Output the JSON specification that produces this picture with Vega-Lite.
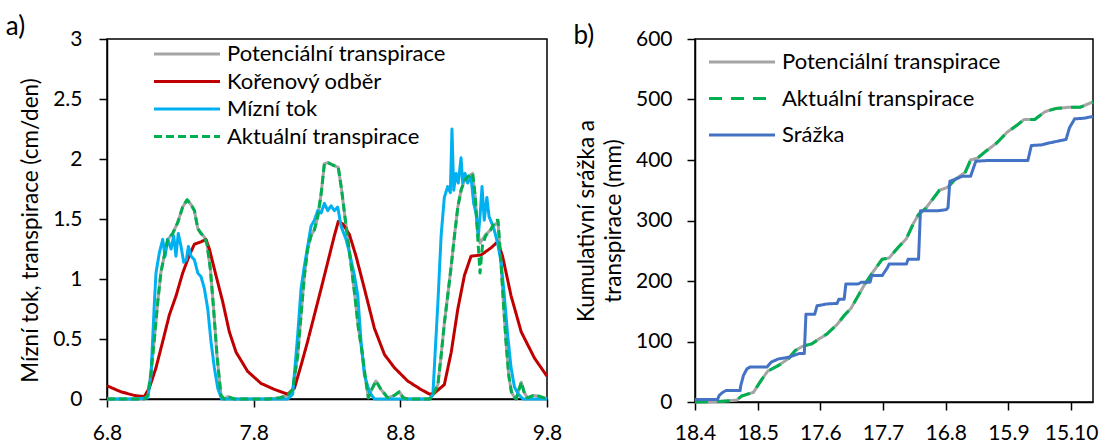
{
  "$schema": "https://vega.github.io/schema/vega-lite/v6.json",
  "padding": {"left": 4, "top": 13, "right": 0, "bottom": 0},
  "background": "white",
  "spacing": 9,
  "config": {
    "font": "Lato",
    "view": {"stroke": "black", "strokeWidth": 1.5},
    "axis": {"domainColor": "black", "tickColor": "black", "labelColor": "black", "titleColor": "black", "labelFont": "Lato", "titleFont": "Lato", "grid": false, "tickSize": 8, "domainWidth": 1.5, "tickWidth": 1.5, "labelFontSize": 21, "titleFontSize": 22.5, "titleFontWeight": "normal", "labelPadding": 15, "titlePadding": 10, "labelFlush": false},
    "legend": {"labelFont": "Lato", "labelFontSize": 22, "labelColor": "black", "labelLimit": 0},
    "title": {"font": "Lato", "fontSize": 26, "fontWeight": "normal", "color": "black", "anchor": "start", "frame": "bounds"}
  },
  "resolve": {"scale": {"color": "independent", "strokeDash": "independent"}, "legend": {"color": "independent", "strokeDash": "independent"}},
  "hconcat": [
    {
      "width": 440,
      "height": 360,
      "title": {"text": "a)", "offset": -12, "dx": -14},
      "data": {"values": [
        {"s":"Potenciální transpirace","d":6.8,"v":0},{"s":"Potenciální transpirace","d":7.0,"v":0},{"s":"Potenciální transpirace","d":7.054,"v":0},{"s":"Potenciální transpirace","d":7.078,"v":0.03},{"s":"Potenciální transpirace","d":7.1,"v":0.22},{"s":"Potenciální transpirace","d":7.123,"v":0.5},{"s":"Potenciální transpirace","d":7.146,"v":0.81},{"s":"Potenciální transpirace","d":7.168,"v":1.06},{"s":"Potenciální transpirace","d":7.19,"v":1.19},{"s":"Potenciální transpirace","d":7.214,"v":1.33},{"s":"Potenciální transpirace","d":7.248,"v":1.38},{"s":"Potenciální transpirace","d":7.282,"v":1.47},{"s":"Potenciální transpirace","d":7.316,"v":1.6},{"s":"Potenciální transpirace","d":7.346,"v":1.66},{"s":"Potenciální transpirace","d":7.373,"v":1.62},{"s":"Potenciální transpirace","d":7.396,"v":1.57},{"s":"Potenciální transpirace","d":7.419,"v":1.42},{"s":"Potenciální transpirace","d":7.441,"v":1.38},{"s":"Potenciální transpirace","d":7.464,"v":1.35},{"s":"Potenciální transpirace","d":7.482,"v":1.29},{"s":"Potenciální transpirace","d":7.505,"v":1.08},{"s":"Potenciální transpirace","d":7.527,"v":0.75},{"s":"Potenciální transpirace","d":7.55,"v":0.36},{"s":"Potenciální transpirace","d":7.577,"v":0.03},{"s":"Potenciální transpirace","d":7.6,"v":0},{"s":"Potenciální transpirace","d":7.623,"v":0.02},{"s":"Potenciální transpirace","d":7.668,"v":0},{"s":"Potenciální transpirace","d":7.9,"v":0},{"s":"Potenciální transpirace","d":7.98,"v":0.01},{"s":"Potenciální transpirace","d":8.032,"v":0.03},{"s":"Potenciální transpirace","d":8.066,"v":0.08},{"s":"Potenciální transpirace","d":8.1,"v":0.36},{"s":"Potenciální transpirace","d":8.123,"v":0.7},{"s":"Potenciální transpirace","d":8.146,"v":1.03},{"s":"Potenciální transpirace","d":8.168,"v":1.25},{"s":"Potenciální transpirace","d":8.191,"v":1.36},{"s":"Potenciální transpirace","d":8.214,"v":1.41},{"s":"Potenciální transpirace","d":8.237,"v":1.52},{"s":"Potenciální transpirace","d":8.26,"v":1.71},{"s":"Potenciální transpirace","d":8.282,"v":1.96},{"s":"Potenciální transpirace","d":8.305,"v":1.97},{"s":"Potenciální transpirace","d":8.339,"v":1.95},{"s":"Potenciální transpirace","d":8.377,"v":1.93},{"s":"Potenciální transpirace","d":8.4,"v":1.74},{"s":"Potenciální transpirace","d":8.422,"v":1.52},{"s":"Potenciální transpirace","d":8.445,"v":1.3},{"s":"Potenciální transpirace","d":8.468,"v":1.08},{"s":"Potenciální transpirace","d":8.49,"v":0.86},{"s":"Potenciální transpirace","d":8.514,"v":0.59},{"s":"Potenciální transpirace","d":8.536,"v":0.42},{"s":"Potenciální transpirace","d":8.559,"v":0.2},{"s":"Potenciální transpirace","d":8.582,"v":0.01},{"s":"Potenciální transpirace","d":8.605,"v":0.08},{"s":"Potenciální transpirace","d":8.634,"v":0.15},{"s":"Potenciální transpirace","d":8.668,"v":0.08},{"s":"Potenciální transpirace","d":8.714,"v":0.01},{"s":"Potenciální transpirace","d":8.76,"v":0.03},{"s":"Potenciální transpirace","d":8.793,"v":0.06},{"s":"Potenciální transpirace","d":8.82,"v":0.01},{"s":"Potenciální transpirace","d":8.85,"v":0},{"s":"Potenciální transpirace","d":9.0,"v":0},{"s":"Potenciální transpirace","d":9.022,"v":0.03},{"s":"Potenciální transpirace","d":9.056,"v":0.12},{"s":"Potenciální transpirace","d":9.078,"v":0.36},{"s":"Potenciální transpirace","d":9.1,"v":0.63},{"s":"Potenciální transpirace","d":9.123,"v":0.86},{"s":"Potenciální transpirace","d":9.147,"v":1.11},{"s":"Potenciální transpirace","d":9.169,"v":1.36},{"s":"Potenciální transpirace","d":9.192,"v":1.6},{"s":"Potenciální transpirace","d":9.214,"v":1.74},{"s":"Potenciální transpirace","d":9.237,"v":1.82},{"s":"Potenciální transpirace","d":9.259,"v":1.85},{"s":"Potenciální transpirace","d":9.293,"v":1.88},{"s":"Potenciální transpirace","d":9.311,"v":1.68},{"s":"Potenciální transpirace","d":9.327,"v":1.4},{"s":"Potenciální transpirace","d":9.343,"v":1.3},{"s":"Potenciální transpirace","d":9.36,"v":1.33},{"s":"Potenciální transpirace","d":9.382,"v":1.37},{"s":"Potenciální transpirace","d":9.416,"v":1.41},{"s":"Potenciální transpirace","d":9.45,"v":1.46},{"s":"Potenciální transpirace","d":9.466,"v":1.47},{"s":"Potenciální transpirace","d":9.485,"v":1.16},{"s":"Potenciální transpirace","d":9.503,"v":0.8},{"s":"Potenciální transpirace","d":9.521,"v":0.47},{"s":"Potenciální transpirace","d":9.539,"v":0.2},{"s":"Potenciální transpirace","d":9.557,"v":0.06},{"s":"Potenciální transpirace","d":9.575,"v":0.02},{"s":"Potenciální transpirace","d":9.59,"v":0},{"s":"Potenciální transpirace","d":9.609,"v":0.08},{"s":"Potenciální transpirace","d":9.625,"v":0.14},{"s":"Potenciální transpirace","d":9.643,"v":0.06},{"s":"Potenciální transpirace","d":9.666,"v":0.01},{"s":"Potenciální transpirace","d":9.71,"v":0.03},{"s":"Potenciální transpirace","d":9.755,"v":0.02},{"s":"Potenciální transpirace","d":9.8,"v":0},

        {"s":"Kořenový odběr","d":6.8,"v":0.11},{"s":"Kořenový odběr","d":6.895,"v":0.06},{"s":"Kořenový odběr","d":6.986,"v":0.03},{"s":"Kořenový odběr","d":7.054,"v":0.02},{"s":"Kořenový odběr","d":7.088,"v":0.09},{"s":"Kořenový odběr","d":7.134,"v":0.26},{"s":"Kořenový odběr","d":7.18,"v":0.48},{"s":"Kořenový odběr","d":7.225,"v":0.7},{"s":"Kořenový odběr","d":7.271,"v":0.86},{"s":"Kořenový odběr","d":7.316,"v":1.05},{"s":"Kořenový odběr","d":7.362,"v":1.2},{"s":"Kořenový odběr","d":7.396,"v":1.29},{"s":"Kořenový odběr","d":7.441,"v":1.31},{"s":"Kořenový odběr","d":7.475,"v":1.33},{"s":"Kořenový odběr","d":7.498,"v":1.25},{"s":"Kořenový odběr","d":7.543,"v":1.03},{"s":"Kořenový odběr","d":7.589,"v":0.81},{"s":"Kořenový odběr","d":7.634,"v":0.56},{"s":"Kořenový odběr","d":7.68,"v":0.39},{"s":"Kořenový odběr","d":7.759,"v":0.23},{"s":"Kořenový odběr","d":7.85,"v":0.13},{"s":"Kořenový odběr","d":7.941,"v":0.08},{"s":"Kořenový odběr","d":8.032,"v":0.04},{"s":"Kořenový odběr","d":8.078,"v":0.09},{"s":"Kořenový odběr","d":8.123,"v":0.28},{"s":"Kořenový odběr","d":8.168,"v":0.48},{"s":"Kořenový odběr","d":8.214,"v":0.7},{"s":"Kořenový odběr","d":8.26,"v":0.92},{"s":"Kořenový odběr","d":8.305,"v":1.14},{"s":"Kořenový odběr","d":8.35,"v":1.36},{"s":"Kořenový odběr","d":8.377,"v":1.48},{"s":"Kořenový odběr","d":8.407,"v":1.46},{"s":"Kořenový odběr","d":8.453,"v":1.37},{"s":"Kořenový odběr","d":8.498,"v":1.19},{"s":"Kořenový odběr","d":8.555,"v":0.92},{"s":"Kořenový odběr","d":8.623,"v":0.59},{"s":"Kořenový odběr","d":8.692,"v":0.37},{"s":"Kořenový odběr","d":8.76,"v":0.26},{"s":"Kořenový odběr","d":8.85,"v":0.15},{"s":"Kořenový odběr","d":8.94,"v":0.08},{"s":"Kořenový odběr","d":9.0,"v":0.04},{"s":"Kořenový odběr","d":9.033,"v":0.05},{"s":"Kořenový odběr","d":9.1,"v":0.12},{"s":"Kořenový odběr","d":9.147,"v":0.39},{"s":"Kořenový odběr","d":9.192,"v":0.75},{"s":"Kořenový odběr","d":9.237,"v":1.03},{"s":"Kořenový odběr","d":9.282,"v":1.19},{"s":"Kořenový odběr","d":9.35,"v":1.2},{"s":"Kořenový odběr","d":9.419,"v":1.26},{"s":"Kořenový odběr","d":9.463,"v":1.31},{"s":"Kořenový odběr","d":9.497,"v":1.19},{"s":"Kořenový odběr","d":9.555,"v":0.86},{"s":"Kořenový odběr","d":9.624,"v":0.56},{"s":"Kořenový odběr","d":9.715,"v":0.34},{"s":"Kořenový odběr","d":9.8,"v":0.19},

        {"s":"Mízní tok","d":6.8,"v":0},{"s":"Mízní tok","d":7.0,"v":0},{"s":"Mízní tok","d":7.078,"v":0.01},{"s":"Mízní tok","d":7.1,"v":0.2},{"s":"Mízní tok","d":7.123,"v":0.8},{"s":"Mízní tok","d":7.134,"v":1.05},{"s":"Mízní tok","d":7.157,"v":1.22},{"s":"Mízní tok","d":7.18,"v":1.33},{"s":"Mízní tok","d":7.196,"v":1.19},{"s":"Mízní tok","d":7.214,"v":1.33},{"s":"Mízní tok","d":7.237,"v":1.25},{"s":"Mízní tok","d":7.255,"v":1.36},{"s":"Mízní tok","d":7.27,"v":1.19},{"s":"Mízní tok","d":7.286,"v":1.38},{"s":"Mízní tok","d":7.305,"v":1.27},{"s":"Mízní tok","d":7.323,"v":1.14},{"s":"Mízní tok","d":7.341,"v":1.16},{"s":"Mízní tok","d":7.355,"v":1.27},{"s":"Mízní tok","d":7.373,"v":1.19},{"s":"Mízní tok","d":7.396,"v":1.16},{"s":"Mízní tok","d":7.419,"v":1.05},{"s":"Mízní tok","d":7.441,"v":1.02},{"s":"Mízní tok","d":7.464,"v":0.92},{"s":"Mízní tok","d":7.487,"v":0.75},{"s":"Mízní tok","d":7.509,"v":0.48},{"s":"Mízní tok","d":7.532,"v":0.26},{"s":"Mízní tok","d":7.555,"v":0.09},{"s":"Mízní tok","d":7.582,"v":0},{"s":"Mízní tok","d":8.032,"v":0},{"s":"Mízní tok","d":8.066,"v":0.04},{"s":"Mízní tok","d":8.1,"v":0.53},{"s":"Mízní tok","d":8.123,"v":0.92},{"s":"Mízní tok","d":8.146,"v":1.11},{"s":"Mízní tok","d":8.168,"v":1.27},{"s":"Mízní tok","d":8.191,"v":1.44},{"s":"Mízní tok","d":8.214,"v":1.49},{"s":"Mízní tok","d":8.237,"v":1.57},{"s":"Mízní tok","d":8.26,"v":1.55},{"s":"Mízní tok","d":8.282,"v":1.63},{"s":"Mízní tok","d":8.305,"v":1.57},{"s":"Mízní tok","d":8.328,"v":1.61},{"s":"Mízní tok","d":8.35,"v":1.57},{"s":"Mízní tok","d":8.373,"v":1.6},{"s":"Mízní tok","d":8.396,"v":1.44},{"s":"Mízní tok","d":8.43,"v":1.33},{"s":"Mízní tok","d":8.453,"v":1.22},{"s":"Mízní tok","d":8.487,"v":1.03},{"s":"Mízní tok","d":8.51,"v":0.86},{"s":"Mízní tok","d":8.532,"v":0.48},{"s":"Mízní tok","d":8.555,"v":0.2},{"s":"Mízní tok","d":8.589,"v":0.06},{"s":"Mízní tok","d":8.623,"v":0},{"s":"Mízní tok","d":9.0,"v":0},{"s":"Mízní tok","d":9.022,"v":0.04},{"s":"Mízní tok","d":9.056,"v":0.8},{"s":"Mízní tok","d":9.078,"v":1.36},{"s":"Mízní tok","d":9.1,"v":1.68},{"s":"Mízní tok","d":9.123,"v":1.77},{"s":"Mízní tok","d":9.141,"v":1.72},{"s":"Mízní tok","d":9.152,"v":2.25},{"s":"Mízní tok","d":9.164,"v":1.74},{"s":"Mízní tok","d":9.18,"v":1.88},{"s":"Mízní tok","d":9.195,"v":1.8},{"s":"Mízní tok","d":9.214,"v":2.01},{"s":"Mízní tok","d":9.225,"v":1.8},{"s":"Mízní tok","d":9.241,"v":1.88},{"s":"Mízní tok","d":9.259,"v":1.8},{"s":"Mízní tok","d":9.282,"v":1.85},{"s":"Mízní tok","d":9.3,"v":1.63},{"s":"Mízní tok","d":9.316,"v":1.55},{"s":"Mízní tok","d":9.332,"v":1.36},{"s":"Mízní tok","d":9.345,"v":1.55},{"s":"Mízní tok","d":9.357,"v":1.77},{"s":"Mízní tok","d":9.372,"v":1.49},{"s":"Mízní tok","d":9.39,"v":1.68},{"s":"Mízní tok","d":9.405,"v":1.52},{"s":"Mízní tok","d":9.422,"v":1.47},{"s":"Mízní tok","d":9.44,"v":1.41},{"s":"Mízní tok","d":9.463,"v":1.3},{"s":"Mízní tok","d":9.487,"v":1.14},{"s":"Mízní tok","d":9.509,"v":0.86},{"s":"Mízní tok","d":9.532,"v":0.53},{"s":"Mízní tok","d":9.555,"v":0.26},{"s":"Mízní tok","d":9.578,"v":0.1},{"s":"Mízní tok","d":9.605,"v":0.04},{"s":"Mízní tok","d":9.635,"v":0},{"s":"Mízní tok","d":9.8,"v":0},

        {"s":"Aktuální transpirace","d":6.8,"v":0},{"s":"Aktuální transpirace","d":7.0,"v":0},{"s":"Aktuální transpirace","d":7.054,"v":0},{"s":"Aktuální transpirace","d":7.078,"v":0.03},{"s":"Aktuální transpirace","d":7.1,"v":0.22},{"s":"Aktuální transpirace","d":7.123,"v":0.5},{"s":"Aktuální transpirace","d":7.146,"v":0.81},{"s":"Aktuální transpirace","d":7.168,"v":1.06},{"s":"Aktuální transpirace","d":7.19,"v":1.19},{"s":"Aktuální transpirace","d":7.214,"v":1.33},{"s":"Aktuální transpirace","d":7.248,"v":1.38},{"s":"Aktuální transpirace","d":7.282,"v":1.47},{"s":"Aktuální transpirace","d":7.316,"v":1.6},{"s":"Aktuální transpirace","d":7.346,"v":1.66},{"s":"Aktuální transpirace","d":7.373,"v":1.62},{"s":"Aktuální transpirace","d":7.396,"v":1.57},{"s":"Aktuální transpirace","d":7.419,"v":1.42},{"s":"Aktuální transpirace","d":7.441,"v":1.38},{"s":"Aktuální transpirace","d":7.464,"v":1.35},{"s":"Aktuální transpirace","d":7.482,"v":1.29},{"s":"Aktuální transpirace","d":7.505,"v":1.08},{"s":"Aktuální transpirace","d":7.527,"v":0.75},{"s":"Aktuální transpirace","d":7.55,"v":0.36},{"s":"Aktuální transpirace","d":7.577,"v":0.03},{"s":"Aktuální transpirace","d":7.6,"v":0},{"s":"Aktuální transpirace","d":7.623,"v":0.02},{"s":"Aktuální transpirace","d":7.668,"v":0},{"s":"Aktuální transpirace","d":7.9,"v":0},{"s":"Aktuální transpirace","d":7.98,"v":0.01},{"s":"Aktuální transpirace","d":8.032,"v":0.03},{"s":"Aktuální transpirace","d":8.066,"v":0.08},{"s":"Aktuální transpirace","d":8.1,"v":0.36},{"s":"Aktuální transpirace","d":8.123,"v":0.7},{"s":"Aktuální transpirace","d":8.146,"v":1.03},{"s":"Aktuální transpirace","d":8.168,"v":1.25},{"s":"Aktuální transpirace","d":8.191,"v":1.36},{"s":"Aktuální transpirace","d":8.214,"v":1.41},{"s":"Aktuální transpirace","d":8.237,"v":1.52},{"s":"Aktuální transpirace","d":8.26,"v":1.71},{"s":"Aktuální transpirace","d":8.282,"v":1.96},{"s":"Aktuální transpirace","d":8.305,"v":1.97},{"s":"Aktuální transpirace","d":8.339,"v":1.95},{"s":"Aktuální transpirace","d":8.377,"v":1.93},{"s":"Aktuální transpirace","d":8.4,"v":1.74},{"s":"Aktuální transpirace","d":8.422,"v":1.52},{"s":"Aktuální transpirace","d":8.445,"v":1.3},{"s":"Aktuální transpirace","d":8.468,"v":1.08},{"s":"Aktuální transpirace","d":8.49,"v":0.86},{"s":"Aktuální transpirace","d":8.514,"v":0.59},{"s":"Aktuální transpirace","d":8.536,"v":0.42},{"s":"Aktuální transpirace","d":8.559,"v":0.2},{"s":"Aktuální transpirace","d":8.582,"v":0.01},{"s":"Aktuální transpirace","d":8.605,"v":0.08},{"s":"Aktuální transpirace","d":8.634,"v":0.15},{"s":"Aktuální transpirace","d":8.668,"v":0.08},{"s":"Aktuální transpirace","d":8.714,"v":0.01},{"s":"Aktuální transpirace","d":8.76,"v":0.03},{"s":"Aktuální transpirace","d":8.793,"v":0.06},{"s":"Aktuální transpirace","d":8.82,"v":0.01},{"s":"Aktuální transpirace","d":8.85,"v":0},{"s":"Aktuální transpirace","d":9.0,"v":0},{"s":"Aktuální transpirace","d":9.022,"v":0.03},{"s":"Aktuální transpirace","d":9.056,"v":0.12},{"s":"Aktuální transpirace","d":9.078,"v":0.36},{"s":"Aktuální transpirace","d":9.1,"v":0.63},{"s":"Aktuální transpirace","d":9.123,"v":0.86},{"s":"Aktuální transpirace","d":9.147,"v":1.11},{"s":"Aktuální transpirace","d":9.169,"v":1.36},{"s":"Aktuální transpirace","d":9.192,"v":1.6},{"s":"Aktuální transpirace","d":9.214,"v":1.74},{"s":"Aktuální transpirace","d":9.237,"v":1.82},{"s":"Aktuální transpirace","d":9.259,"v":1.85},{"s":"Aktuální transpirace","d":9.293,"v":1.88},{"s":"Aktuální transpirace","d":9.311,"v":1.68},{"s":"Aktuální transpirace","d":9.327,"v":1.36},{"s":"Aktuální transpirace","d":9.343,"v":1.05},{"s":"Aktuální transpirace","d":9.36,"v":1.28},{"s":"Aktuální transpirace","d":9.382,"v":1.36},{"s":"Aktuální transpirace","d":9.416,"v":1.41},{"s":"Aktuální transpirace","d":9.45,"v":1.49},{"s":"Aktuální transpirace","d":9.466,"v":1.49},{"s":"Aktuální transpirace","d":9.485,"v":1.16},{"s":"Aktuální transpirace","d":9.503,"v":0.8},{"s":"Aktuální transpirace","d":9.521,"v":0.47},{"s":"Aktuální transpirace","d":9.539,"v":0.2},{"s":"Aktuální transpirace","d":9.557,"v":0.06},{"s":"Aktuální transpirace","d":9.575,"v":0.02},{"s":"Aktuální transpirace","d":9.59,"v":0},{"s":"Aktuální transpirace","d":9.609,"v":0.08},{"s":"Aktuální transpirace","d":9.625,"v":0.14},{"s":"Aktuální transpirace","d":9.643,"v":0.06},{"s":"Aktuální transpirace","d":9.666,"v":0.01},{"s":"Aktuální transpirace","d":9.71,"v":0.03},{"s":"Aktuální transpirace","d":9.755,"v":0.02},{"s":"Aktuální transpirace","d":9.8,"v":0}
      ]},
      "mark": {"type": "line", "strokeWidth": 3, "strokeCap": "butt", "strokeJoin": "round"},
      "encoding": {
        "x": {"field": "d", "type": "quantitative", "scale": {"domain": [6.8, 9.8], "nice": false, "zero": false}, "axis": {"values": [6.8, 7.8, 8.8, 9.8], "format": ".1f", "title": null}},
        "y": {"field": "v", "type": "quantitative", "scale": {"domain": [0, 3], "nice": false}, "axis": {"values": [0, 0.5, 1, 1.5, 2, 2.5, 3], "format": "~g", "title": "Mízní tok, transpirace (cm/den)", "titleY": 191, "labelPadding": 17}},
        "color": {"field": "s", "type": "nominal", "scale": {"domain": ["Potenciální transpirace", "Kořenový odběr", "Mízní tok", "Aktuální transpirace"], "range": ["#A5A5A5", "#C00000", "#00B0F0", "#00B050"]},
          "legend": {"title": null, "orient": "none", "legendX": 69, "legendY": 4, "padding": 0, "symbolType": "M-5.5,0H5.5", "symbolSize": 144, "symbolStrokeWidth": 3, "labelOffset": 29, "rowPadding": 5.5}},
        "strokeDash": {"field": "s", "type": "nominal", "scale": {"domain": ["Potenciální transpirace", "Kořenový odběr", "Mízní tok", "Aktuální transpirace"], "range": [[1, 0], [1, 0], [1, 0], [8, 4]]},
          "legend": {"title": null, "orient": "none", "legendX": 69, "legendY": 4, "padding": 0, "symbolType": "M-5.5,0H5.5", "symbolSize": 144, "symbolStrokeWidth": 3, "labelOffset": 29, "rowPadding": 5.5}}
      }
    },
    {
      "width": 398,
      "height": 363,
      "title": {"text": "b)", "offset": -21, "dx": -2},
      "data": {"values": [
        {"s":"Potenciální transpirace","d":0,"v":0},{"s":"Potenciální transpirace","d":11.6,"v":1},{"s":"Potenciální transpirace","d":19.9,"v":3},{"s":"Potenciální transpirace","d":22.4,"v":10},{"s":"Potenciální transpirace","d":28,"v":16},{"s":"Potenciální transpirace","d":31.5,"v":35},{"s":"Potenciální transpirace","d":34.8,"v":51},{"s":"Potenciální transpirace","d":39.8,"v":60},{"s":"Potenciální transpirace","d":44.8,"v":72},{"s":"Potenciální transpirace","d":48,"v":85},{"s":"Potenciální transpirace","d":51.4,"v":92},{"s":"Potenciální transpirace","d":55.8,"v":96},{"s":"Potenciální transpirace","d":58.8,"v":103},{"s":"Potenciální transpirace","d":63,"v":112},{"s":"Potenciální transpirace","d":68,"v":128},{"s":"Potenciální transpirace","d":71.4,"v":143},{"s":"Potenciální transpirace","d":74.7,"v":155},{"s":"Potenciální transpirace","d":78,"v":175},{"s":"Potenciální transpirace","d":81.3,"v":195},{"s":"Potenciální transpirace","d":84.6,"v":212},{"s":"Potenciální transpirace","d":89.6,"v":236},{"s":"Potenciální transpirace","d":92.9,"v":238},{"s":"Potenciální transpirace","d":97.1,"v":255},{"s":"Potenciální transpirace","d":101.2,"v":270},{"s":"Potenciální transpirace","d":104.5,"v":295},{"s":"Potenciální transpirace","d":107,"v":310},{"s":"Potenciální transpirace","d":110.4,"v":320},{"s":"Potenciální transpirace","d":113.7,"v":335},{"s":"Potenciální transpirace","d":117,"v":350},{"s":"Potenciální transpirace","d":121.1,"v":355},{"s":"Potenciální transpirace","d":124.5,"v":368},{"s":"Potenciální transpirace","d":129.4,"v":380},{"s":"Potenciální transpirace","d":131.9,"v":400},{"s":"Potenciální transpirace","d":135.2,"v":403},{"s":"Potenciální transpirace","d":139.4,"v":415},{"s":"Potenciální transpirace","d":144.4,"v":428},{"s":"Potenciální transpirace","d":149.4,"v":446},{"s":"Potenciální transpirace","d":154.3,"v":458},{"s":"Potenciální transpirace","d":157.6,"v":467},{"s":"Potenciální transpirace","d":162.6,"v":467},{"s":"Potenciální transpirace","d":167.6,"v":480},{"s":"Potenciální transpirace","d":172.6,"v":485},{"s":"Potenciální transpirace","d":178.4,"v":487},{"s":"Potenciální transpirace","d":184.2,"v":487},{"s":"Potenciální transpirace","d":190.5,"v":496},

        {"s":"Aktuální transpirace","d":0,"v":0},{"s":"Aktuální transpirace","d":11.6,"v":1},{"s":"Aktuální transpirace","d":19.9,"v":3},{"s":"Aktuální transpirace","d":22.4,"v":10},{"s":"Aktuální transpirace","d":28,"v":16},{"s":"Aktuální transpirace","d":31.5,"v":35},{"s":"Aktuální transpirace","d":34.8,"v":51},{"s":"Aktuální transpirace","d":39.8,"v":60},{"s":"Aktuální transpirace","d":44.8,"v":72},{"s":"Aktuální transpirace","d":48,"v":85},{"s":"Aktuální transpirace","d":51.4,"v":92},{"s":"Aktuální transpirace","d":55.8,"v":96},{"s":"Aktuální transpirace","d":58.8,"v":103},{"s":"Aktuální transpirace","d":63,"v":112},{"s":"Aktuální transpirace","d":68,"v":128},{"s":"Aktuální transpirace","d":71.4,"v":143},{"s":"Aktuální transpirace","d":74.7,"v":155},{"s":"Aktuální transpirace","d":78,"v":175},{"s":"Aktuální transpirace","d":81.3,"v":195},{"s":"Aktuální transpirace","d":84.6,"v":212},{"s":"Aktuální transpirace","d":89.6,"v":236},{"s":"Aktuální transpirace","d":92.9,"v":238},{"s":"Aktuální transpirace","d":97.1,"v":255},{"s":"Aktuální transpirace","d":101.2,"v":270},{"s":"Aktuální transpirace","d":104.5,"v":295},{"s":"Aktuální transpirace","d":107,"v":310},{"s":"Aktuální transpirace","d":110.4,"v":320},{"s":"Aktuální transpirace","d":113.7,"v":335},{"s":"Aktuální transpirace","d":117,"v":350},{"s":"Aktuální transpirace","d":121.1,"v":355},{"s":"Aktuální transpirace","d":124.5,"v":368},{"s":"Aktuální transpirace","d":129.4,"v":380},{"s":"Aktuální transpirace","d":131.9,"v":400},{"s":"Aktuální transpirace","d":135.2,"v":403},{"s":"Aktuální transpirace","d":139.4,"v":415},{"s":"Aktuální transpirace","d":144.4,"v":428},{"s":"Aktuální transpirace","d":149.4,"v":446},{"s":"Aktuální transpirace","d":154.3,"v":458},{"s":"Aktuální transpirace","d":157.6,"v":467},{"s":"Aktuální transpirace","d":162.6,"v":467},{"s":"Aktuální transpirace","d":167.6,"v":480},{"s":"Aktuální transpirace","d":172.6,"v":485},{"s":"Aktuální transpirace","d":178.4,"v":487},{"s":"Aktuální transpirace","d":184.2,"v":487},{"s":"Aktuální transpirace","d":190.5,"v":496},

        {"s":"Srážka","d":0,"v":4},{"s":"Srážka","d":10.8,"v":4},{"s":"Srážka","d":11.6,"v":11},{"s":"Srážka","d":13.3,"v":16},{"s":"Srážka","d":14.9,"v":19},{"s":"Srážka","d":21.6,"v":19},{"s":"Srážka","d":21.9,"v":27},{"s":"Srážka","d":23.2,"v":44},{"s":"Srážka","d":24.9,"v":55},{"s":"Srážka","d":26.5,"v":58},{"s":"Srážka","d":34.5,"v":58},{"s":"Srážka","d":36.5,"v":66},{"s":"Srážka","d":39.8,"v":71},{"s":"Srážka","d":44.8,"v":74},{"s":"Srážka","d":49.8,"v":80},{"s":"Srážka","d":52.3,"v":80},{"s":"Srážka","d":52.5,"v":96},{"s":"Srážka","d":53.1,"v":145},{"s":"Srážka","d":57.3,"v":145},{"s":"Srážka","d":58.4,"v":159},{"s":"Srážka","d":63,"v":162},{"s":"Srážka","d":68,"v":163},{"s":"Srážka","d":68.9,"v":170},{"s":"Srážka","d":71.4,"v":170},{"s":"Srážka","d":72.2,"v":195},{"s":"Srážka","d":78,"v":195},{"s":"Srážka","d":79.7,"v":198},{"s":"Srážka","d":83.8,"v":198},{"s":"Srážka","d":84.6,"v":209},{"s":"Srážka","d":89.6,"v":209},{"s":"Srážka","d":92.1,"v":222},{"s":"Srážka","d":92.9,"v":228},{"s":"Srážka","d":101.2,"v":228},{"s":"Srážka","d":102,"v":236},{"s":"Srážka","d":107,"v":236},{"s":"Srážka","d":107.9,"v":316},{"s":"Srážka","d":116.2,"v":316},{"s":"Srážka","d":120.3,"v":318},{"s":"Srážka","d":121.1,"v":321},{"s":"Srážka","d":122,"v":365},{"s":"Srážka","d":124.5,"v":368},{"s":"Srážka","d":127.8,"v":373},{"s":"Srážka","d":131.9,"v":373},{"s":"Srážka","d":134.4,"v":398},{"s":"Srážka","d":139.4,"v":399},{"s":"Srážka","d":159.3,"v":399},{"s":"Srážka","d":161,"v":424},{"s":"Srážka","d":166,"v":425},{"s":"Srážka","d":169.3,"v":428},{"s":"Srážka","d":177.6,"v":434},{"s":"Srážka","d":179.2,"v":453},{"s":"Srážka","d":181.7,"v":468},{"s":"Srážka","d":186.1,"v":469},{"s":"Srážka","d":190.5,"v":472}
      ]},
      "mark": {"type": "line", "strokeWidth": 3, "strokeCap": "butt", "strokeJoin": "round"},
      "encoding": {
        "x": {"field": "d", "type": "quantitative", "scale": {"domain": [0, 190.5], "nice": false, "zero": false}, "axis": {"values": [0, 30, 60, 90, 120, 150, 180], "labelExpr": "datum.value == 0 ? '18.4' : datum.value == 30 ? '18.5' : datum.value == 60 ? '17.6' : datum.value == 90 ? '17.7' : datum.value == 120 ? '16.8' : datum.value == 150 ? '15.9' : '15.10'", "title": null, "labelOverlap": false, "labelPadding": 12}},
        "y": {"field": "v", "type": "quantitative", "scale": {"domain": [0, 600], "nice": false}, "axis": {"values": [0, 100, 200, 300, 400, 500, 600], "format": "d", "title": ["Kumulativní srážka a", "transpirace (mm)"], "titleLineHeight": 27, "labelPadding": 15}},
        "color": {"field": "s", "type": "nominal", "scale": {"domain": ["Potenciální transpirace", "Aktuální transpirace", "Srážka"], "range": ["#A5A5A5", "#00B050", "#4472C4"]},
          "legend": {"title": null, "orient": "none", "legendX": 36, "legendY": 12, "padding": 0, "symbolType": "M-5.5,0H5.5", "symbolSize": 144, "symbolStrokeWidth": 3, "labelOffset": 29, "rowPadding": 14.5}},
        "strokeDash": {"field": "s", "type": "nominal", "scale": {"domain": ["Potenciální transpirace", "Aktuální transpirace", "Srážka"], "range": [[1, 0], [13, 9], [1, 0]]},
          "legend": {"title": null, "orient": "none", "legendX": 36, "legendY": 12, "padding": 0, "symbolType": "M-5.5,0H5.5", "symbolSize": 144, "symbolStrokeWidth": 3, "labelOffset": 29, "rowPadding": 14.5}}
      }
    }
  ]
}
